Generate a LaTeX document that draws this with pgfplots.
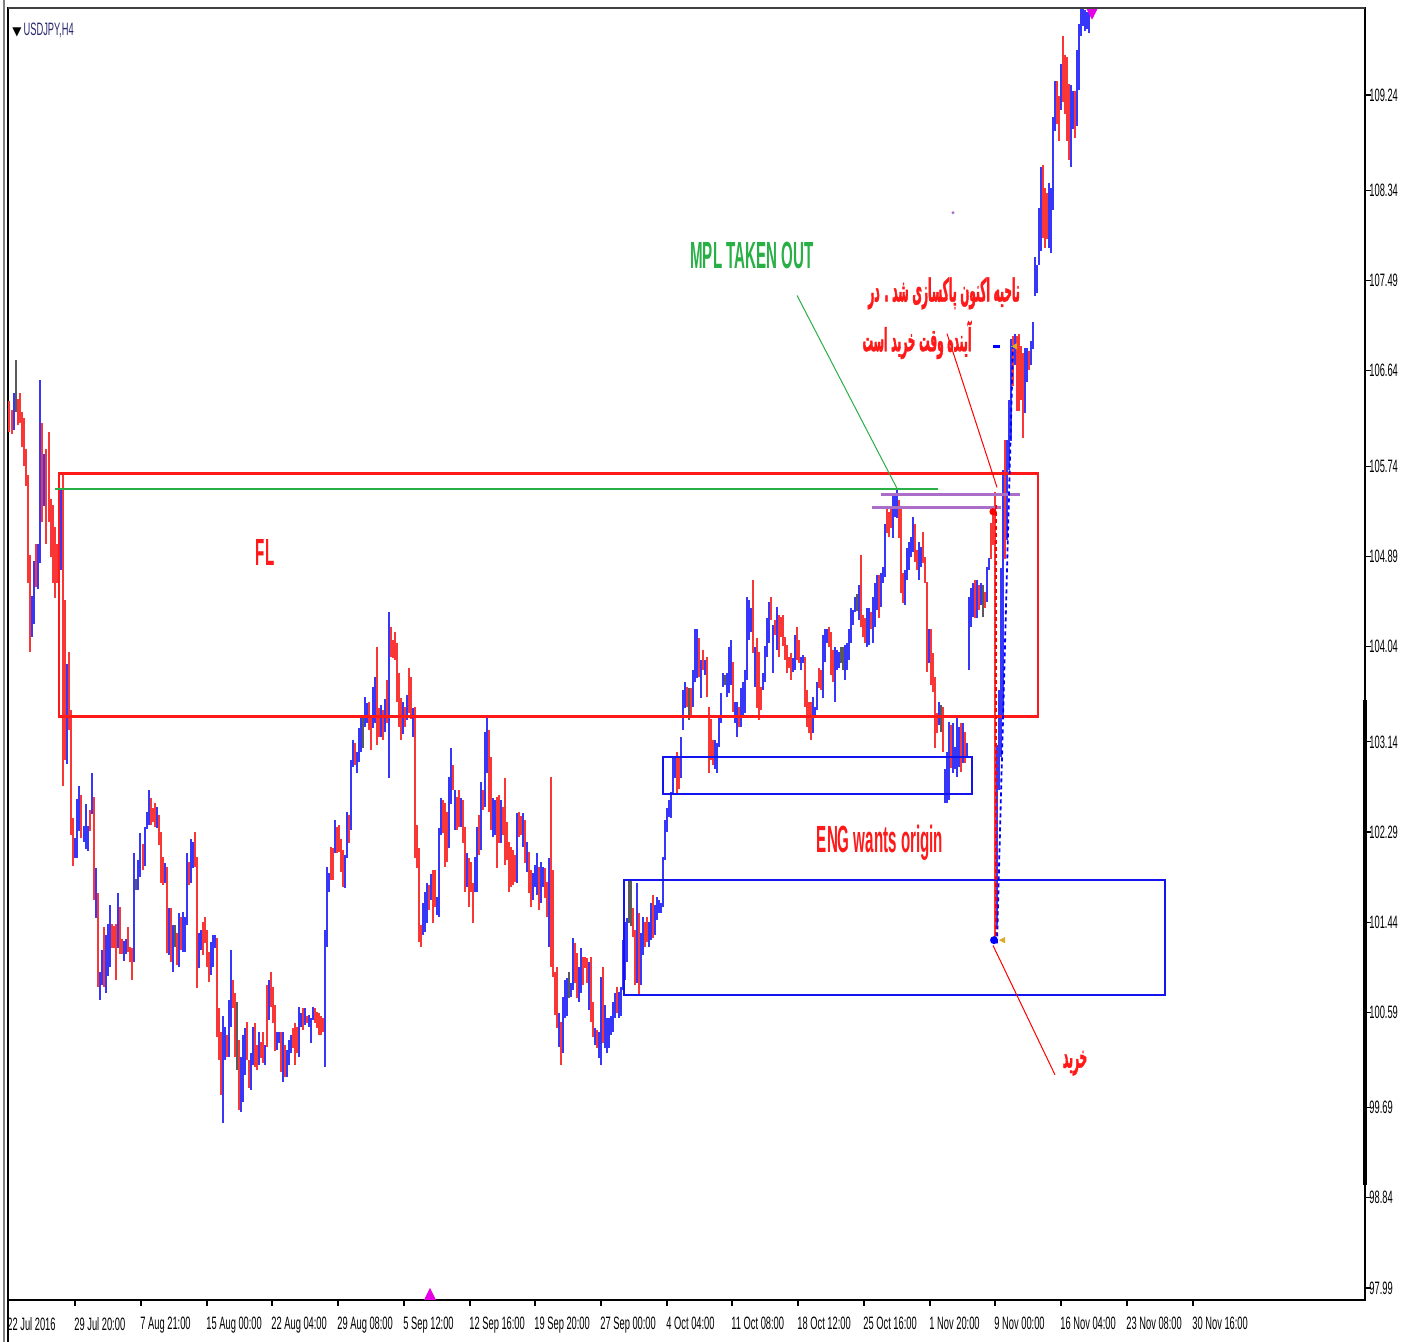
\documentclass[border=0pt]{standalone}
\usepackage{fontspec}
\usepackage{pgfplots}
\usepackage{pgfplotstable}
\pgfplotsset{compat=1.18}
\TeXXeTstate=1
\setmainfont{Liberation Sans}
\newfontfamily\tickfont[FakeStretch=0.52]{Liberation Sans}
\newfontfamily\annfont[FakeStretch=0.40]{Liberation Sans}
\newfontfamily\fafont[Script=Arabic,FakeStretch=0.33,FakeBold=1.2]{DejaVu Sans}
\newfontfamily\symfont{DejaVu Sans}

\definecolor{barred}{RGB}{250,55,55}
\definecolor{barblue}{RGB}{55,55,250}
\definecolor{bargray}{RGB}{90,90,90}
\definecolor{flred}{RGB}{255,25,25}
\definecolor{mplgreen}{RGB}{40,175,70}
\definecolor{zoneblue}{RGB}{20,20,240}
\definecolor{purp}{RGB}{170,110,200}
\definecolor{navy}{RGB}{40,40,110}
\definecolor{gold}{RGB}{220,170,40}
\definecolor{mag}{RGB}{230,0,230}

% USDJPY H4 bars: x = bar position, hi / lo = price
\pgfplotstableread{
x hi lo
14 106.43 106.08
32 104.52 104.13
34 104.85 104.25
38 105.01 104.58
40 106.55 104.83
44 105.85 105.36
59 105.52 104.78
61 105.52 104.76
67 103.87 102.93
75 102.23 102.04
77 102.60 102.04
79 102.72 102.30
84 102.35 102.20
86 102.55 102.13
88 102.35 102.11
92 102.85 102.46
96 101.95 101.48
100 100.97 100.71
102 101.18 100.85
106 101.32 100.77
108 101.42 100.93
110 101.60 101.02
118 101.71 101.20
124 101.26 101.07
126 101.28 101.14
134 102.09 101.06
138 102.03 101.74
140 102.28 101.87
145 102.34 101.97
147 102.48 102.32
149 102.69 102.36
157 102.53 102.33
165 102.00 101.81
169 101.57 101.13
173 101.41 100.97
179 101.53 101.02
183 101.54 101.16
185 101.49 101.16
187 102.09 101.41
191 102.22 101.81
193 102.20 101.95
199 101.34 101.01
201 101.37 101.18
211 101.25 100.94
213 101.32 101.02
215 101.32 101.20
223 100.55 99.55
225 100.45 100.14
229 100.71 100.17
231 101.18 100.45
241 100.17 99.65
243 100.38 99.74
245 100.44 100.00
251 100.21 99.86
253 100.45 100.09
259 100.40 100.09
265 100.28 100.09
269 100.89 100.52
277 100.40 100.23
279 100.40 100.30
283 100.40 99.93
287 100.23 99.98
289 100.33 100.09
291 100.38 100.21
299 100.64 100.17
301 100.58 100.45
305 100.63 100.47
309 100.56 100.45
311 100.54 100.30
313 100.64 100.52
325 101.37 100.07
327 101.96 101.21
329 101.90 101.72
335 102.40 102.09
345 102.07 101.76
347 102.48 102.04
351 102.97 102.31
353 103.16 102.90
357 103.04 102.85
359 103.27 102.95
361 103.37 103.04
365 103.56 103.28
367 103.51 103.32
373 103.66 103.27
375 103.75 103.32
381 103.49 103.19
385 103.54 103.23
389 104.36 102.80
403 103.52 103.21
407 103.58 103.35
413 103.46 103.19
423 101.62 101.32
425 101.72 101.35
427 101.81 101.43
431 101.89 101.65
437 101.68 101.51
439 102.33 101.49
441 102.61 102.26
449 102.81 102.14
451 103.08 102.55
455 102.69 102.31
461 102.61 102.34
467 102.09 101.77
475 102.05 101.72
477 102.34 101.72
481 102.76 102.12
485 103.23 102.53
487 103.37 102.85
493 102.61 102.24
495 102.59 102.26
501 102.59 102.19
517 102.47 101.81
523 102.47 102.15
527 102.20 101.91
533 101.90 101.65
535 101.98 101.77
537 102.09 101.70
541 102.01 101.62
543 101.96 101.77
549 102.04 101.21
559 100.58 100.26
563 100.73 100.21
565 100.89 100.54
567 100.91 100.55
571 100.87 100.73
573 101.29 100.80
579 101.02 100.69
581 101.20 100.77
589 101.06 100.61
595 100.44 100.28
599 100.40 100.16
601 100.92 100.09
605 100.66 100.25
607 100.54 100.21
609 100.54 100.25
611 100.55 100.38
613 100.69 100.40
615 100.77 100.54
619 100.78 100.54
621 100.83 100.55
623 101.27 100.80
625 101.44 100.89
627 101.48 101.06
637 101.81 100.87
641 101.34 100.85
643 101.49 101.13
649 101.44 101.21
651 101.62 101.27
655 101.60 101.32
657 101.68 101.46
659 101.65 101.53
661 101.62 101.53
663 102.05 101.58
665 102.40 102.03
667 102.52 102.29
669 102.59 102.43
671 102.67 102.42
673 102.99 102.66
675 102.99 102.80
681 103.19 102.80
683 103.63 103.25
685 103.70 103.46
693 103.82 103.47
695 104.20 103.70
697 104.20 103.74
701 103.91 103.55
705 103.91 103.77
715 103.16 102.88
717 103.13 102.85
719 103.39 103.09
721 103.60 103.32
723 103.79 103.66
727 103.79 103.56
729 104.03 103.60
731 104.10 103.68
735 103.52 103.32
737 103.52 103.19
741 103.65 103.28
743 103.70 103.37
745 103.82 103.41
747 104.51 103.72
749 104.48 104.10
751 104.40 104.18
755 104.03 103.66
763 103.79 103.63
765 104.04 103.70
767 104.31 103.94
769 104.46 104.07
773 104.24 103.79
777 104.41 104.01
793 103.93 103.80
795 104.15 103.82
801 103.94 103.82
803 103.96 103.88
813 103.56 103.22
815 103.47 103.37
817 103.70 103.44
823 104.15 103.55
825 104.20 103.89
827 104.20 104.07
835 104.03 103.52
837 104.01 103.82
839 103.99 103.84
845 104.05 103.72
847 104.07 103.82
849 104.20 103.91
851 104.40 104.07
853 104.38 104.24
855 104.51 104.36
859 104.62 104.29
867 104.40 104.03
869 104.40 104.05
873 104.51 104.07
875 104.64 104.22
877 104.71 104.38
881 104.73 104.41
883 104.79 104.64
885 105.19 104.69
893 105.47 105.06
895 105.47 105.26
897 105.52 105.25
905 104.76 104.43
907 104.97 104.67
909 105.02 104.76
911 105.07 104.88
913 105.26 104.93
919 105.02 104.67
921 104.98 104.79
929 104.20 103.88
939 103.52 103.30
945 102.88 102.56
947 103.04 102.56
949 103.33 102.59
953 103.32 102.85
955 103.09 102.88
957 103.37 102.81
959 103.28 102.90
963 103.32 102.94
967 103.13 103.00
969 104.51 103.82
971 104.59 104.22
973 104.64 104.32
977 104.67 104.31
981 104.64 104.43
987 104.79 104.46
989 104.87 104.76
997 103.11 101.41
999 103.63 102.69
1001 104.78 103.00
1003 105.70 103.39
1007 105.99 105.04
1009 106.36 105.70
1011 106.94 105.98
1015 106.99 106.69
1025 106.85 106.24
1027 106.85 106.53
1031 106.92 106.69
1033 107.10 106.84
1035 107.71 107.34
1037 107.64 107.37
1039 108.17 107.64
1041 108.56 107.77
1049 108.41 107.80
1051 108.36 107.75
1053 109.03 108.16
1055 109.37 108.90
1061 109.53 109.10
1071 109.33 108.56
1073 109.28 108.92
1077 109.66 108.95
1079 109.91 109.29
1081 110.05 109.80
1083 110.06 109.89
1085 110.04 109.84
1087 110.02 109.86
1089 110.04 109.82
}\upbars

\pgfplotstableread{
x hi lo
9 106.35 106.06
12 106.27 106.04
18 106.37 106.13
20 106.43 106.15
22 106.25 105.92
24 106.19 105.74
26 105.90 105.55
28 105.66 104.64
30 104.90 103.99
36 105.01 104.60
42 106.15 105.21
46 105.90 105.01
49 106.06 105.21
51 105.43 104.88
53 105.37 104.64
55 105.17 104.50
57 105.01 104.64
63 105.66 102.72
65 104.48 102.97
69 103.99 103.25
71 103.44 102.26
73 102.42 101.97
81 102.64 102.23
90 102.50 102.30
94 102.62 101.65
98 101.71 100.83
104 101.39 100.83
112 101.42 101.20
114 101.40 101.20
116 101.42 100.89
120 101.58 101.14
122 101.28 101.14
128 101.39 101.16
130 101.21 101.06
132 101.20 100.89
143 102.18 101.93
151 102.61 102.36
153 102.52 102.38
155 102.56 102.34
159 102.45 102.17
161 102.29 101.81
163 102.05 101.79
167 101.96 101.15
171 101.57 101.06
177 101.34 101.04
181 101.49 101.18
189 102.01 101.79
195 102.29 101.96
197 102.05 100.82
203 101.44 101.13
205 101.49 101.24
207 101.37 101.02
209 101.16 100.88
217 101.29 100.36
219 100.63 100.14
221 100.40 99.81
227 100.38 100.17
233 100.89 100.63
235 100.77 100.17
239 100.33 99.67
247 100.50 100.14
249 100.14 99.88
255 100.49 100.07
257 100.28 100.05
261 100.31 100.16
263 100.40 100.11
267 100.85 100.26
271 100.97 100.64
273 100.83 100.49
275 100.66 100.22
281 100.40 100.03
285 100.28 99.98
293 100.44 100.25
295 100.49 100.09
297 100.45 100.21
303 100.63 100.42
307 100.55 100.49
315 100.63 100.49
317 100.59 100.44
319 100.58 100.38
321 100.55 100.38
323 100.54 100.40
331 102.15 101.84
333 102.14 101.84
337 102.34 102.09
339 102.36 102.10
341 102.22 101.91
343 102.12 101.77
349 102.45 102.19
355 103.13 102.92
369 103.52 103.25
371 103.37 103.06
377 104.03 103.11
379 103.46 103.19
383 103.44 103.16
387 103.72 103.32
391 104.22 103.94
393 104.10 103.93
395 104.18 103.91
397 104.07 103.52
399 103.79 103.28
401 103.55 103.16
405 103.47 103.28
409 103.84 103.41
411 103.75 103.36
415 103.47 102.04
417 102.36 101.95
419 102.14 101.25
421 101.41 101.21
429 101.79 101.55
433 101.93 101.43
435 101.93 101.58
443 102.59 102.28
445 102.56 101.96
447 102.48 102.01
453 102.92 102.69
457 102.62 102.31
459 102.69 102.34
463 102.59 102.19
465 102.34 101.72
469 102.04 101.58
471 102.01 101.72
473 101.81 101.43
479 102.45 102.07
483 102.69 102.50
489 103.25 102.48
491 103.00 102.31
497 102.62 101.95
499 102.64 102.19
503 102.53 102.26
505 102.80 101.98
507 102.38 102.03
509 102.20 101.72
511 102.15 101.77
513 102.12 101.79
515 102.07 101.82
519 102.48 102.24
521 102.44 102.26
525 102.40 102.00
529 102.10 101.71
531 101.93 101.58
539 101.96 101.55
545 101.95 101.67
547 101.82 101.49
551 102.81 101.02
553 101.93 100.92
555 100.97 100.56
557 101.02 100.44
561 100.50 100.09
575 101.24 100.87
577 101.15 100.72
583 101.11 100.85
585 101.11 101.01
587 101.10 100.87
591 101.11 100.50
593 100.69 100.36
597 100.42 100.25
603 101.02 100.30
617 100.83 100.58
633 101.57 101.30
635 101.37 100.85
639 101.53 100.75
645 101.44 101.21
647 101.49 101.25
653 101.70 101.29
677 103.04 102.64
679 103.00 102.70
687 103.66 103.47
691 103.65 103.37
699 104.12 103.75
703 104.01 103.82
707 103.94 103.56
709 103.47 102.85
711 103.36 102.97
713 103.16 102.92
733 103.89 103.42
739 103.47 103.28
753 104.67 103.98
757 104.12 103.46
759 103.99 103.35
761 103.66 103.44
771 104.51 104.29
775 104.29 104.15
779 104.34 103.94
781 104.32 104.13
783 104.34 104.04
785 104.13 103.91
787 104.05 103.79
789 103.94 103.84
791 103.98 103.72
797 104.22 103.91
799 104.10 103.88
805 103.94 103.47
807 103.63 103.28
809 103.52 103.22
811 103.52 103.16
819 103.84 103.65
821 103.82 103.63
829 104.22 104.03
831 104.18 103.77
833 104.01 103.70
861 104.90 104.22
863 104.34 104.13
865 104.31 104.07
871 104.36 104.20
879 104.71 104.31
887 105.36 105.11
889 105.31 105.07
891 105.36 105.16
899 105.42 105.06
901 105.36 104.54
903 104.73 104.45
915 105.19 104.84
917 104.95 104.76
923 105.12 104.83
925 104.88 104.64
927 104.65 103.80
931 104.20 103.68
933 103.98 103.61
935 103.75 103.08
937 103.41 103.22
943 103.47 103.04
951 103.30 102.89
961 103.32 102.86
965 103.23 102.94
975 104.67 104.31
979 104.62 104.38
985 104.55 104.40
991 105.20 104.86
993 105.36 105.00
995 105.50 101.29
1005 105.99 104.86
1013 106.97 106.50
1017 106.97 106.26
1019 106.99 106.26
1021 106.87 106.36
1023 106.81 106.01
1029 106.83 106.65
1043 108.58 107.89
1045 108.36 107.80
1047 108.32 107.88
1057 109.37 108.97
1059 109.23 108.81
1063 109.80 109.17
1065 109.62 109.06
1067 109.60 108.81
1069 109.34 108.63
1075 109.28 108.83
}\downbars

\pgfplotstableread{
x hi lo
16 106.74 106.25
136 101.85 101.74
175 101.41 101.21
237 100.69 100.05
363 103.37 103.08
569 100.97 100.72
629 101.84 101.43
631 101.84 101.40
689 103.65 103.35
725 103.77 103.68
841 104.03 103.88
843 104.03 103.82
857 104.53 104.37
941 103.49 103.23
983 104.62 104.32
}\flatbars

\begin{document}
\begin{tikzpicture}
\begin{axis}[
  scale only axis, width=678.5bp, height=646bp,
  xmin=8, xmax=1365, ymin=97.8765, ymax=110.0606,
  clip=false,
  axis line style={line width=0.8bp, black},
  tick align=outside,
  major tick length=3bp,
  tick style={black, line width=0.6bp},
  xtick pos=bottom, ytick pos=right, yticklabel pos=right,
  xtick={8,75,141,207,272,338,404,470,535,601,667,732,798,864,930,995,1061,1127,1193},
  xticklabels={22 Jul 2016,29 Jul 20:00,7 Aug 21:00,15 Aug 00:00,22 Aug 04:00,29 Aug 08:00,5 Sep 12:00,12 Sep 16:00,19 Sep 20:00,27 Sep 00:00,4 Oct 04:00,11 Oct 08:00,18 Oct 12:00,25 Oct 16:00,1 Nov 20:00,9 Nov 00:00,16 Nov 04:00,23 Nov 08:00,30 Nov 16:00},
  ytick={109.24,108.34,107.49,106.64,105.74,104.89,104.04,103.14,102.29,101.44,100.59,99.69,98.84,97.99},
  yticklabels={109.24,108.34,107.49,106.64,105.74,104.89,104.04,103.14,102.29,101.44,100.59,99.69,98.84,97.99},
  xticklabel style={font=\tickfont\fontsize{9}{9}\selectfont, anchor=north west, xshift=-0.5bp, yshift=-5.5bp, inner sep=0pt},
  yticklabel style={font=\tickfont\fontsize{9}{9}\selectfont, anchor=west, xshift=-1bp, inner sep=0pt},
]

% price bars
\addplot[draw=none, mark=none, forget plot, error bars/.cd, y dir=plus, y explicit, error mark=none,
  error bar style={draw=barblue, line width=0.8bp}]
  table[x=x, y=lo, y error expr=\thisrow{hi}-\thisrow{lo}] {\upbars};
\addplot[draw=none, mark=none, forget plot, error bars/.cd, y dir=plus, y explicit, error mark=none,
  error bar style={draw=barred, line width=0.8bp}]
  table[x=x, y=lo, y error expr=\thisrow{hi}-\thisrow{lo}] {\downbars};
\addplot[draw=none, mark=none, forget plot, error bars/.cd, y dir=plus, y explicit, error mark=none,
  error bar style={draw=bargray, line width=0.8bp}]
  table[x=x, y=lo, y error expr=\thisrow{hi}-\thisrow{lo}] {\flatbars};

% zones and lines
\draw[flred, line width=1.2bp] (59,105.67) rectangle (1038,103.38);
\draw[mplgreen, line width=1bp] (55,105.52) -- (938,105.52);
\draw[zoneblue, line width=1bp] (663,103.00) rectangle (972,102.65);
\draw[zoneblue, line width=1bp] (624,101.84) rectangle (1165,100.75);
\draw[purp, line width=1.4bp] (881,105.47) -- (1020,105.47);
\draw[purp, line width=1.4bp] (872,105.35) -- (1001,105.35);
\draw[mplgreen, line width=0.5bp] (797,107.35) -- (897,105.53);
\draw[red, line width=0.5bp] (947,106.99) -- (997,105.54);
\draw[red, line width=0.5bp] (993,101.22) -- (1055,100.00);
\draw[red, line width=0.9bp, dash pattern=on 2bp off 1.5bp] (996,105.37) -- (996,101.27);
\draw[blue, line width=0.9bp, dash pattern=on 2bp off 1.5bp] (997,101.24) -- (1013,106.88);
\fill[blue] (994,101.27) circle[radius=2bp];
\fill[red] (993,105.31) circle[radius=1.8bp];
\fill[gold] (999,101.27) -- (1005,101.30) -- (1005,101.24) -- cycle;
\fill[gold] (1011,106.87) -- (1017,106.90) -- (1017,106.84) -- cycle;
\draw[blue, line width=1.2bp] (993,106.87) -- (1000,106.87);
\fill[purp] (953,108.13) circle[radius=0.8bp];
\fill[mag] (424,97.8765) -- (436,97.8765) -- (430,97.99) -- cycle;
\fill[mag] (1086,110.0606) -- (1098,110.0606) -- (1092,109.95) -- cycle;
\draw[black, line width=1.6bp] (1365,103.535) -- (1365,98.961);
\draw[black, line width=0.8bp] (8,97.8765) -- (8,97.4804);
\draw[gray, line width=0.7bp] (4,97.4804) -- (4,110.136);
\draw[darkgray, line width=1.2bp] (8,110.0606) -- (1365,110.0606);

% texts
\node[anchor=west, inner sep=0pt] at (12,109.853)
  {\symfont\fontsize{6}{6}\selectfont ▼\,\tickfont\fontsize{9}{9}\selectfont\textcolor{navy}{USDJPY,H4}};
\node[font=\annfont\bfseries\fontsize{19}{19}\selectfont, text=mplgreen] at (752,107.73) {MPL TAKEN OUT};
\node[font=\annfont\bfseries\fontsize{19}{19}\selectfont, text=flred] at (265,104.93) {FL};
\node[font=\annfont\bfseries\fontsize{19}{19}\selectfont, text=flred] at (880,102.19) {ENG wants origin};
\node[font=\fafont\bfseries\fontsize{16}{16}\selectfont, text=flred] at (944,107.37) {\beginR ناحیه اکنون پاکسازی شد . در\endR};
\node[font=\fafont\bfseries\fontsize{16}{16}\selectfont, text=flred] at (917,106.93) {\beginR آینده وقت خرید است\endR};
\node[font=\fafont\bfseries\fontsize{16}{16}\selectfont, text=flred] at (1075,100.11) {\beginR خرید\endR};

\coordinate (bbsw) at (0,97.4804);
\coordinate (bbne) at (1417,110.136);
\end{axis}
\pgfresetboundingbox
\path (bbsw) rectangle (bbne);
\end{tikzpicture}
\end{document}
